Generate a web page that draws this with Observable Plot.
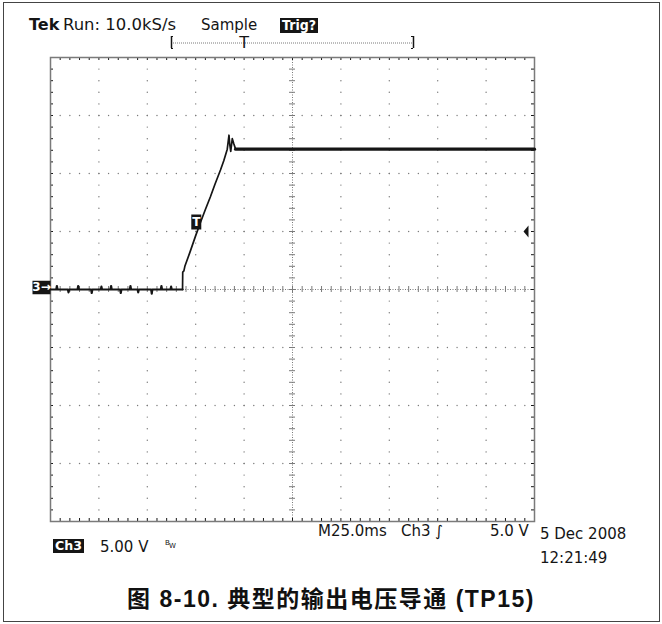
<!DOCTYPE html>
<html>
<head>
<meta charset="utf-8">
<script src="https://cdn.jsdelivr.net/npm/d3@7"></script>
<script src="https://cdn.jsdelivr.net/npm/@observablehq/plot@0.6"></script>
<style>
  body { margin: 0; background: #fff; }
  #scope { position: relative; width: 662px; height: 624px; overflow: hidden; background: #fff; }
  #scope svg { position: absolute; left: 0; top: 0; }
  #outline { position: absolute; left: 3px; top: 2px; width: 657px; height: 620px; border: 1px solid #444; box-sizing: border-box; }
  #caption { position: absolute; left: 0; top: 580px; width: 662px; text-align: center; letter-spacing: 1.5px;
             font: bold 23px "Liberation Sans", Arial, "Noto Sans CJK SC", sans-serif; color: #111; }
</style>
</head>
<body>
<div id="scope">
  <div id="outline"></div>
  <div id="caption"></div>
</div>
<script>
// Screen: 10 x 8 divisions, 25 ms/div horizontally, 5 V/div vertically
const timeDomain = [0, 250];   // ms
const voltDomain = [-20, 20];  // V

// Channel 3 trace: output voltage turn-on (time in ms, voltage in V)
const traceTime = [0, 3, 3.3, 3.6, 9, 9.3, 9.6, 14, 14.3, 14.6, 21, 21.3, 21.6, 26, 26.3, 26.6, 31, 31.3, 31.6,
  36, 36.3, 36.6, 41, 41.3, 41.6, 45, 45.3, 45.6, 52, 52.3, 52.6, 57, 57.3, 57.6, 62, 62.3, 62.6, 68.2,
  68.3, 68.9, 69.4, 72, 74.9, 77.5, 80, 82.6, 85, 87.8, 89.5, 91.3, 92.2, 92.6, 93.1, 93.9, 94.6, 95.6, 250];
const traceVolt = [0, 0, 0.3, 0, 0, -0.25, 0, 0, 0.3, 0, 0, -0.3, 0, 0, 0.25, 0, 0, 0.3, 0,
  0, -0.3, 0, 0, 0.3, 0, 0, -0.25, 0, 0, -0.35, 0, 0, 0.3, 0, 0, 0.25, 0, 0,
  1.5, 1.6, 2.0, 3.2, 4.6, 5.8, 6.9, 8.0, 9.1, 10.3, 11.1, 12.1, 13.3, 12.5, 11.9, 13.0, 12.6, 12.1, 12.1];

const groundLevel = 0;       // channel 3 ground reference
const triggerLevel = 5;      // V
const triggerTime = 75.3;    // ms
const recordWindow = [62.5, 187.5];
const recordTrigger = 100;

// Readout text
const headerBold = "Tek";
const headerRun = "Run: 10.0kS/s";
const acqMode = "Sample";
const trigState = "Trig?";
const channelName = "Ch3";
const channelScale = "5.00 V";
const timebase = "M25.0ms";
const trigSource = "Ch3 \u222B";
const trigLevelText = "5.0 V";
const dateText = "5 Dec 2008";
const timeText = "12:21:49";
const captionText = "图 8-10. 典型的输出电压导通 (TP15)";

const trace = traceTime.map((t, i) => ({t, v: traceVolt[i]}));
const settleStart = 95.6;

// Graticule helpers
const fineX = d3.range(0, 250.001, 5);
const fineY = d3.range(-20, 20.001, 1);
const majorX = d3.range(25, 250, 25).filter(d => d !== 125);
const majorY = d3.range(-15, 20, 5).filter(d => d !== 0);
const gridDots = [
  ...majorX.flatMap(x => fineY.slice(1, -1).map(y => ({x, y}))),
  ...majorY.flatMap(y => fineX.slice(1, -1).map(x => ({x, y})))
];

// Custom symbols
const box = (w, h) => ({draw(ctx, size) { const r = Math.sqrt(size / Math.PI); ctx.rect(-r * w, -r * h, 2 * r * w, 2 * r * h); }});
const leftArrow = {draw(ctx, size) { const r = Math.sqrt(size / Math.PI); ctx.moveTo(-r * 0.5, 0); ctx.lineTo(r * 0.5, -r * 1.2); ctx.lineTo(r * 0.5, r * 1.2); ctx.closePath(); }};

const ink = "#151515";
const grat = "#7a7a7a";
const scopeFont = "DejaVu Sans, sans-serif";

const chart = Plot.plot({
  width: 662,
  height: 570,
  marginLeft: 50,
  marginRight: 128,
  marginTop: 57,
  marginBottom: 49,
  x: {domain: timeDomain, axis: null},
  y: {domain: voltDomain, axis: null},
  style: {background: "transparent", fontFamily: scopeFont, overflow: "visible"},
  marks: [
    // dotted division lines
    Plot.dot(gridDots, {x: "x", y: "y", r: 0.7, fill: grat, stroke: "none"}),
    // centre cross-hair with minor ticks
    Plot.ruleX([125], {stroke: grat, strokeDasharray: "1 1.5"}),
    Plot.ruleY([0], {stroke: grat, strokeDasharray: "1 1.5"}),
    Plot.ruleX(fineX, {x: d => d, y1: 0, y2: 0, insetTop: -3, insetBottom: -3, stroke: grat}),
    Plot.ruleY(fineY, {y: d => d, x1: 125, x2: 125, insetLeft: -3, insetRight: -3, stroke: grat}),
    // border ticks
    Plot.ruleX(fineX, {x: d => d, y1: 20, y2: 20, insetBottom: -3, stroke: ink}),
    Plot.ruleX(fineX, {x: d => d, y1: -20, y2: -20, insetTop: -3, stroke: ink}),
    Plot.ruleY(fineY, {y: d => d, x1: 0, x2: 0, insetRight: -3, stroke: ink}),
    Plot.ruleY(fineY, {y: d => d, x1: 250, x2: 250, insetLeft: -3, stroke: ink}),
    Plot.frame({stroke: grat, strokeWidth: 1.5}),
    // trace
    Plot.line(trace.filter(d => d.t <= 68.2), {x: "t", y: "v", stroke: ink, strokeWidth: 2.2}),
    Plot.line(trace.filter(d => d.t >= 68.2), {x: "t", y: "v", stroke: ink, strokeWidth: 1.7}),
    Plot.line(trace.filter(d => d.t >= settleStart), {x: "t", y: "v", stroke: ink, strokeWidth: 3.2}),
    // trigger point marker
    Plot.dot([triggerTime], {x: d => d, y: triggerLevel, dy: -9.5, r: 5, symbol: box(1, 1.5), fill: ink, stroke: "none"}),
    Plot.text([triggerTime], {x: d => d, y: triggerLevel, dy: -9.5, text: () => "T", fill: "#fff", fontSize: 12, fontWeight: "bold"}),
    // trigger level arrow
    Plot.dot([triggerLevel], {x: 250, y: d => d, dx: -8.5, r: 5, symbol: leftArrow, fill: ink, stroke: "none"}),
    // ground marker
    Plot.dot([groundLevel], {x: 0, y: d => d, dx: -9, dy: -2, r: 9, symbol: box(1, 0.75), fill: ink, stroke: "none"}),
    Plot.text([groundLevel], {x: 0, y: d => d, dx: -9, dy: -2, text: () => "3\u2192", fill: "#fff", fontSize: 12, fontWeight: "bold"}),
    // record view bracket
    Plot.ruleY([20], {x1: recordWindow[0], x2: recordWindow[1], dy: -14.5, stroke: grat, strokeDasharray: "1 1"}),
    Plot.ruleX(recordWindow, {x: d => d, y1: 20, y2: 20, insetTop: -21, insetBottom: 9, stroke: ink, strokeWidth: 1.5}),
    Plot.ruleY([20], {x1: recordWindow[0], x2: recordWindow[0], insetRight: -2, dy: -21, stroke: ink, strokeWidth: 1}),
    Plot.ruleY([20], {x1: recordWindow[0], x2: recordWindow[0], insetRight: -2, dy: -9, stroke: ink, strokeWidth: 1}),
    Plot.ruleY([20], {x1: recordWindow[1], x2: recordWindow[1], insetLeft: -2, dy: -21, stroke: ink, strokeWidth: 1}),
    Plot.ruleY([20], {x1: recordWindow[1], x2: recordWindow[1], insetLeft: -2, dy: -9, stroke: ink, strokeWidth: 1}),
    Plot.text([recordTrigger], {x: d => d, y: 20, dy: -15, text: () => "T", fontSize: 16, fill: ink})
  ]
});

document.getElementById("scope").appendChild(chart);

// Readouts drawn around the graticule
const svg = d3.select(chart);
const g = svg.append("g").attr("font-family", scopeFont).attr("fill", ink)
  .attr("font-size", 15).attr("text-anchor", "start");
const label = (text, x, y, opts = {}) => {
  const t = g.append("text").attr("x", x).attr("y", y).text(text);
  for (const [k, v] of Object.entries(opts)) t.attr(k, v);
  return t;
};
const inverse = (text, x, y, w, h, size) => {
  g.append("rect").attr("x", x).attr("y", y).attr("width", w).attr("height", h).attr("fill", ink);
  label(text, x + 2, y + h - 3, {fill: "#fff", "font-size": size, "font-weight": "bold",
    textLength: w - 4, lengthAdjust: "spacingAndGlyphs"});
};

label(headerBold, 29, 30, {"font-weight": "bold", "font-size": 16});
label(headerRun, 63, 30, {"font-size": 16, textLength: 113, lengthAdjust: "spacingAndGlyphs"});
label(acqMode, 201, 30);
inverse(trigState, 280, 18, 38, 15, 14);

label(timebase, 318, 536);
label(trigSource, 401, 536);
label(trigLevelText, 490, 536);
label(dateText, 540, 539);
label(timeText, 540, 563);

inverse(channelName, 53, 539, 31, 14, 13);
label(channelScale, 100, 552);
label("B", 165, 545, {"font-size": 7});
label("W", 169, 548, {"font-size": 7});

document.getElementById("caption").textContent = captionText;
</script>
</body>
</html>
